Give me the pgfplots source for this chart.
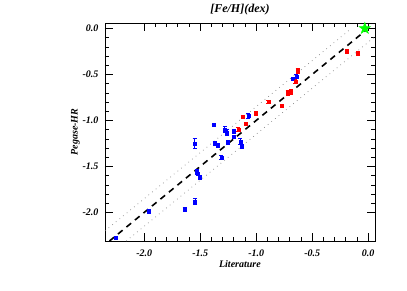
\documentclass[border=0pt]{standalone}
\usepackage{pgfplots}
\pgfplotsset{compat=1.18}
\usepackage{fontspec}
\setmainfont{Liberation Serif}
\pgfdeclareplotmark{fstar}{%
  \pgfpathmoveto{\pgfqpointpolar{90}{\pgfplotmarksize}}%
  \pgfpathlineto{\pgfqpointpolar{126}{0.4\pgfplotmarksize}}%
  \pgfpathlineto{\pgfqpointpolar{162}{\pgfplotmarksize}}%
  \pgfpathlineto{\pgfqpointpolar{198}{0.4\pgfplotmarksize}}%
  \pgfpathlineto{\pgfqpointpolar{234}{\pgfplotmarksize}}%
  \pgfpathlineto{\pgfqpointpolar{270}{0.4\pgfplotmarksize}}%
  \pgfpathlineto{\pgfqpointpolar{306}{\pgfplotmarksize}}%
  \pgfpathlineto{\pgfqpointpolar{342}{0.4\pgfplotmarksize}}%
  \pgfpathlineto{\pgfqpointpolar{18}{\pgfplotmarksize}}%
  \pgfpathlineto{\pgfqpointpolar{54}{0.4\pgfplotmarksize}}%
  \pgfpathclose
  \pgfusepathqfillstroke}
\begin{document}
\begin{tikzpicture}
\begin{axis}[
  scale only axis,
  width=270pt, height=218pt,
  xmin=-2.35, xmax=0.06,
  ymin=-2.31, ymax=0.058,
  clip=false,
  axis line style={black, line width=0.6pt},
  xtick={-2.0,-1.5,-1.0,-0.5,0.0},
  ytick={-2.0,-1.5,-1.0,-0.5,0.0},
  minor x tick num=4, minor y tick num=4,
  tick align=inside,
  major tick length=8pt, minor tick length=4pt,
  tick style={black, line width=0.6pt},
  xticklabel style={font=\bfseries\itshape, yshift=-5pt},
  yticklabel style={font=\bfseries\itshape, xshift=-3pt},
  /pgf/number format/assume math mode=true,
  /pgf/number format/.cd, fixed, fixed zerofill, precision=1,
  /pgfplots/.cd,
  title={[Fe/H](dex)},
  title style={font=\bfseries\itshape\large, yshift=-1pt},
  xlabel={Literature},
  xlabel style={font=\bfseries\itshape, yshift=3pt},
  ylabel={Pegase-HR},
  ylabel style={font=\bfseries\itshape, yshift=-4pt},
]
\path (rel axis cs:-0.389,-0.229) rectangle (rel axis cs:1.119,1.106);
% one-to-one line and +-0.15 dex band
\addplot[black, line width=1.6pt, dash pattern=on 6pt off 5pt] coordinates {(-2.31,-2.31) (-0.02,-0.02)};
\addplot[gray, line width=0.7pt, dash pattern=on 0.7pt off 4pt] coordinates {(-2.35,-2.20) (-0.15,0.0)};
\addplot[gray, line width=0.7pt, dash pattern=on 0.7pt off 4pt] coordinates {(-2.16,-2.31) (0.06,-0.09)};
% blue stars
\addplot[only marks, blue, mark=square*, mark size=1.5pt,
  error bars/.cd, y dir=both, y explicit,
  error bar style={blue, line width=0.8pt},
  error mark options={rotate=90, mark size=2pt, blue, line width=0.8pt}]
  table[x=x, y=y, y error=e] {
x y e
-2.25 -2.27 0.01
-1.96 -1.99 0.02
-1.64 -1.97 0.02
-1.545 -1.88 0.03
-1.53 -1.56 0.03
-1.52 -1.58 0.02
-1.50 -1.62 0.02
-1.55 -1.25 0.05
-1.38 -1.05 0.01
-1.37 -1.25 0.02
-1.345 -1.27 0.02
-1.31 -1.40 0.02
-1.28 -1.10 0.03
-1.26 -1.13 0.03
-1.25 -1.24 0.02
-1.20 -1.12 0.02
-1.20 -1.18 0.02
-1.14 -1.23 0.03
-1.13 -1.28 0.02
-1.07 -0.95 0.03
-0.67 -0.55 0.02
-0.64 -0.52 0.02
};
% red stars
\addplot[only marks, red, mark=square*, mark size=1.5pt,
  error bars/.cd, y dir=both, y explicit,
  error bar style={red, line width=0.8pt},
  error mark options={rotate=90, mark size=2pt, red, line width=0.8pt}]
  table[x=x, y=y, y error=e] {
x y e
-1.16 -1.10 0.02
-1.12 -0.96 0.02
-1.09 -1.04 0.01
-1.00 -0.92 0.02
-0.89 -0.80 0.02
-0.77 -0.84 0.01
-0.72 -0.70 0.03
-0.69 -0.69 0.03
-0.65 -0.575 0.02
-0.63 -0.46 0.03
-0.19 -0.25 0.02
-0.09 -0.27 0.02
};
% Sun
\addplot[only marks, mark=fstar, mark size=6pt, color={rgb,255:red,0;green,255;blue,0}, line width=0.5pt,
  mark options={fill={rgb,255:red,0;green,255;blue,0}}] coordinates {(-0.03,0.0)};
\end{axis}
\end{tikzpicture}
\end{document}
